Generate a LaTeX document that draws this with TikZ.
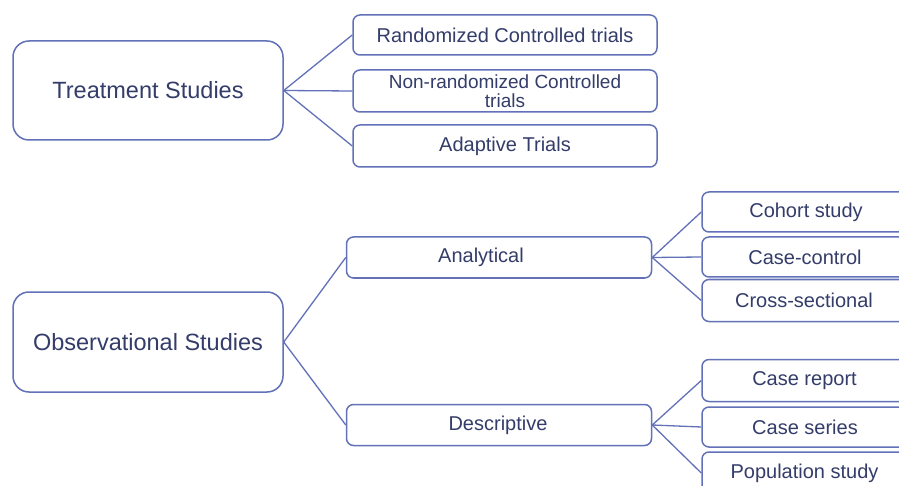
\documentclass[tikz,border=0pt]{standalone}
\usepackage{fontspec}
\setmainfont{Liberation Sans}
\definecolor{edgec}{HTML}{6271B8}
\definecolor{txtc}{HTML}{343C6A}
\begin{document}
\begin{tikzpicture}[x=1pt,y=-1pt,
  bigbox/.style={draw=edgec, line width=1.5pt, rectangle, rounded corners=16pt, inner sep=0pt, text=txtc,
    minimum width=270pt, minimum height=99pt, font=\fontsize{23.5}{26}\selectfont},
  midbox/.style={draw=edgec, line width=1.5pt, rectangle, rounded corners=7pt, inner sep=0pt, text=txtc,
    minimum width=304pt, minimum height=41pt, font=\fontsize{20}{18}\selectfont, align=center},
  leafbox/.style={draw=edgec, line width=1.5pt, rectangle, rounded corners=7pt, inner sep=0pt, text=txtc,
    minimum width=212pt, font=\fontsize{20}{18}\selectfont},
  lbl/.style={inner sep=0pt, text=txtc, font=\fontsize{20}{18}\selectfont},
  conn/.style={draw=edgec, line width=1.3pt}]
\clip (0,0) rectangle (899,486);
\fill[white] (0,0) rectangle (899,486);
% Treatment
\node[bigbox] (ts) at (148,90.5) {Treatment Studies};
\node[midbox, minimum height=40pt] (rct) at (505,35) {Randomized Controlled trials};
\node[midbox, minimum height=42pt, font=\fontsize{19}{18.5}\selectfont] (nrct) at (505,91) {Non-randomized Controlled\\trials};
\node[midbox, minimum height=42pt] (adt) at (505,146) {Adaptive Trials};
\draw[conn] (ts.east) -- (rct.west);
\draw[conn] (ts.east) -- (nrct.west);
\draw[conn] (ts.east) -- (adt.west);
% Observational
\node[bigbox, minimum height=100pt] (os) at (148,342) {Observational Studies};
\node[midbox, minimum width=305pt] (ana) at (499,257.5) {};
\node[lbl] (anat) at (481,257.5) {Analytical};
\node[midbox, minimum width=305pt] (desc) at (499,425) {};
\node[lbl] (desct) at (498,425) {Descriptive};
\draw[conn] (os.east) -- (ana.west);
\draw[conn] (os.east) -- (desc.west);
% Analytical leaves
\node[leafbox, minimum height=40pt] (coh) at (808,212) {};
\node[lbl] (coht) at (806,212) {Cohort study};
\node[leafbox, minimum height=40pt] (cc) at (808,257) {};
\node[lbl] (cct) at (805,257) {Case-control};
\node[leafbox, minimum height=42pt] (cs) at (808,300.5) {};
\node[lbl] (cst) at (804,300.5) {Cross-sectional};
\draw[conn] (ana.east) -- (coh.west);
\draw[conn] (ana.east) -- (cc.west);
\draw[conn] (ana.east) -- (cs.west);
% Descriptive leaves
\node[leafbox, minimum height=42pt] (cr) at (808,380.5) {};
\node[lbl] (crt) at (804.5,380.5) {Case report};
\node[leafbox, minimum height=40pt] (ser) at (808,427) {};
\node[lbl] (sert) at (805,427) {Case series};
\node[leafbox, minimum height=42pt] (pop) at (808,473) {};
\node[lbl] (popt) at (804.5,473) {Population study};
\draw[conn] (desc.east) -- (cr.west);
\draw[conn] (desc.east) -- (ser.west);
\draw[conn] (desc.east) -- (pop.west);
\end{tikzpicture}
\end{document}
